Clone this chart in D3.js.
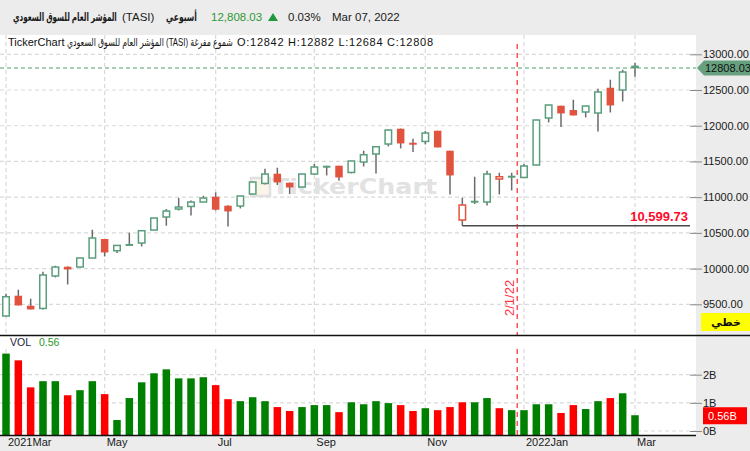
<!DOCTYPE html>
<html>
<head>
<meta charset="utf-8">
<script src="https://cdn.jsdelivr.net/npm/d3@7"></script>
<style>
body { margin: 0; background: #ececec; }
svg { display: block; font-family: "Liberation Sans", "DejaVu Sans", sans-serif; }
</style>
</head>
<body>
<div id="chart"></div>
<script>
// weekly TASI candles, Mar 2021 - Mar 2022
const open = [9336, 9620, 9480, 9442, 9896, 10026, 10022, 10148, 10414, 10250,
    10345, 10358, 10540, 10722, 10834, 10870, 10932, 11006, 10880, 10876,
    11044, 11192, 11328, 11202, 11142, 11324, 11440, 11440, 11346, 11492,
    11604, 11744, 11958, 11762, 11780, 11930, 11650, 10680, 10950, 10932,
    11254, 11300, 11276, 11450, 12108, 12280, 12220, 12192, 12178, 12532,
    12500, 12842];
const high = [9648, 9704, 9578, 9956, 10040, 10030, 10150, 10544, 10414, 10330,
    10502, 10535, 10712, 10834, 10988, 10954, 11020, 11066, 10885, 11020,
    11215, 11398, 11412, 11205, 11326, 11464, 11440, 11440, 11510, 11650,
    11710, 11945, 11960, 11818, 11926, 11930, 11650, 10992, 11286, 11370,
    11342, 11342, 11464, 12085, 12292, 12280, 12364, 12280, 12518, 12644,
    12784, 12882];
const low = [9330, 9484, 9428, 9428, 9876, 9778, 10020, 10148, 10170, 10218,
    10325, 10310, 10535, 10600, 10814, 10744, 10932, 10814, 10590, 10842,
    11040, 11178, 11170, 11044, 11140, 11314, 11304, 11230, 11332, 11430,
    11332, 11710, 11682, 11632, 11738, 11696, 11038, 10599.73, 10904, 10884,
    11038, 11094, 11276, 11445, 12046, 11982, 12144, 12116, 11920, 12186,
    12340, 12684];
const close = [9606, 9484, 9428, 9910, 10022, 9988, 10148, 10428, 10226, 10324,
    10330, 10530, 10708, 10806, 10862, 10932, 10988, 10824, 10800, 11016,
    11212, 11324, 11206, 11136, 11324, 11422, 11428, 11276, 11506, 11594,
    11706, 11940, 11752, 11738, 11898, 11696, 11304, 10890, 10926, 11324,
    11286, 11290, 11436, 12080, 12290, 12172, 12144, 12276, 12472, 12284,
    12752, 12808];
// volume in billions
const volume = [2.75, 2.51, 1.55, 1.77, 1.77, 1.27, 1.45, 1.77, 1.31, 0.39,
    1.17, 1.73, 2.05, 2.19, 1.87, 1.87, 1.91, 1.63, 1.13, 1.06,
    1.20, 1.06, 0.85, 0.71, 0.85, 0.92, 0.92, 0.67, 1.02, 0.95,
    1.06, 0.99, 0.92, 0.71, 0.81, 0.74, 0.85, 1.02, 1.02, 1.17,
    0.81, 0.74, 0.74, 0.95, 0.95, 0.64, 0.92, 0.78, 1.06, 1.17,
    1.34, 0.56];

const priceTicks = [9500, 10000, 10500, 11000, 11500, 12000, 12500, 13000];
const volTicks = [0, 1, 2];
const monthTicks = [0, 8, 17, 25, 34, 42, 51];
const monthLabels = ["2021Mar", "May", "Jul", "Sep", "Nov", "2022Jan", "Mar"];

const lastPrice = 12808.03;
const lowPrice = 10599.73;
const lowIndex = 37;
const markerIndex = 41.45;
const markerLabel = "2/1/22";

const GREEN = "#5a9e7b", RED = "#e2533f";

// squeeze a text horizontally so it fits in w pixels
function fitText(sel, x, y, w) {
    const len = sel.node().getComputedTextLength();
    const k = Math.min(1, w / len);
    sel.attr("transform", "translate(" + x + "," + y + ") scale(" + k + ",1)");
}

class CandleChart {
    constructor(opts) {
        this.element = opts.element;
        // one record per week, colour from change vs previous close
        this.bars = open.map((o, i) => {
            const prev = i ? close[i - 1] : o;
            return { i: i, o: o, h: high[i], l: low[i], c: close[i], v: volume[i],
                     rising: close[i] >= prev, hollow: close[i] > o };
        });
        this.draw();
    }

    draw() {
        this.width = 750;
        this.height = 451;
        this.right = 696;
        const svg = this.element.append("svg")
            .attr("width", this.width)
            .attr("height", this.height);
        this.svg = svg;

        svg.append("rect").attr("width", this.width).attr("height", this.height).attr("fill", "#ececec");
        svg.append("rect").attr("x", 0).attr("y", 35).attr("width", this.right).attr("height", 400).attr("fill", "#fff");

        this.x = d3.scaleLinear().domain([0, 51]).range([6, 635]);
        this.y = d3.scaleLinear().domain([9500, 13000]).range([304.3, 54.3]);
        this.yv = d3.scaleLinear().domain([0, 2]).range([431, 374.7]);

        this.addGrid();
        this.addWatermark();
        this.addMarker();
        this.addCandles();
        this.addVolume();
        this.addAxes();
        this.addLabels();
        this.addHeader();
    }

    addGrid() {
        const g = this.svg.append("g")
            .attr("stroke", "#d9d9d9").attr("stroke-width", 1.2).attr("stroke-dasharray", "4,3");
        g.selectAll(".hp").data(priceTicks).enter().append("line")
            .attr("x1", 0).attr("x2", this.right)
            .attr("y1", d => this.y(d)).attr("y2", d => this.y(d));
        g.selectAll(".hv").data(volTicks).enter().append("line")
            .attr("x1", 0).attr("x2", this.right)
            .attr("y1", d => this.yv(d)).attr("y2", d => this.yv(d));
        g.selectAll(".vp").data(monthTicks).enter().append("line")
            .attr("x1", d => this.x(d)).attr("x2", d => this.x(d))
            .attr("y1", 35).attr("y2", 335);
        g.selectAll(".vv").data(monthTicks).enter().append("line")
            .attr("x1", d => this.x(d)).attr("x2", d => this.x(d))
            .attr("y1", 349).attr("y2", 435);
    }

    addWatermark() {
        const g = this.svg.append("g");
        g.append("rect").attr("x", 251).attr("y", 178).attr("width", 19).attr("height", 18)
            .attr("fill", "#fbf4e8").attr("stroke", "#e0e0e0").attr("stroke-width", 2.5);
        g.append("text").attr("x", 272).attr("y", 194)
            .attr("font-family", "'DejaVu Sans', sans-serif")
            .attr("font-weight", "bold").attr("font-size", 22)
            .attr("textLength", 165).attr("lengthAdjust", "spacingAndGlyphs")
            .attr("fill", "#e2e2e2").text("TickerChart");
    }

    addMarker() {
        const mx = this.x(markerIndex);
        const g = this.svg.append("g").attr("stroke", "#ff2a2a").attr("stroke-width", 1.2)
            .attr("stroke-dasharray", "5,4");
        g.append("line").attr("x1", mx).attr("x2", mx).attr("y1", 44).attr("y2", 335);
        g.append("line").attr("x1", mx).attr("x2", mx).attr("y1", 349).attr("y2", 435);
        this.svg.append("text")
            .attr("transform", "translate(" + (mx - 3) + ",316) rotate(-90)")
            .attr("font-size", 13).attr("fill", "#ff3344").text(markerLabel);
    }

    addCandles() {
        const g = this.svg.append("g");
        const candles = g.selectAll("g").data(this.bars).enter().append("g")
            .attr("transform", d => "translate(" + this.x(d.i) + ",0)");
        candles.append("line")
            .attr("y1", d => this.y(d.h)).attr("y2", d => this.y(d.l))
            .attr("stroke", "#6b6b6b").attr("stroke-width", 1.5);
        candles.append("rect")
            .attr("x", d => d.hollow ? -3.25 : -3.75)
            .attr("width", d => d.hollow ? 6.5 : 7.5)
            .attr("y", d => this.y(Math.max(d.o, d.c)))
            .attr("height", d => Math.max(2, Math.abs(this.y(d.o) - this.y(d.c))))
            .attr("fill", d => d.hollow ? "#fff" : (d.rising ? GREEN : RED))
            .attr("stroke", d => d.hollow ? (d.rising ? GREEN : RED) : "none")
            .attr("stroke-width", 1.5);

        // last price line
        this.svg.append("line")
            .attr("x1", 0).attr("x2", this.right)
            .attr("y1", this.y(lastPrice)).attr("y2", this.y(lastPrice))
            .attr("stroke", "#4f9e72").attr("stroke-width", 1).attr("stroke-dasharray", "4,3");

        // lowest low line
        const ly = this.y(lowPrice);
        this.svg.append("line")
            .attr("x1", this.x(lowIndex)).attr("x2", 690)
            .attr("y1", ly).attr("y2", ly)
            .attr("stroke", "#4a4a4a").attr("stroke-width", 1.5);
        this.svg.append("text")
            .attr("x", 688).attr("y", ly - 4.5)
            .attr("text-anchor", "end").attr("font-weight", "bold").attr("font-size", 13)
            .attr("fill", "#ff0a2a").text(d3.format(",.2f")(lowPrice));
    }

    addVolume() {
        this.svg.append("g").selectAll("rect").data(this.bars).enter().append("rect")
            .attr("x", d => this.x(d.i) - 3.75)
            .attr("width", 7.5)
            .attr("y", d => this.yv(d.v))
            .attr("height", d => 435 - this.yv(d.v))
            .attr("fill", d => d.rising ? "#008000" : "#ff0000");
    }

    addAxes() {
        // panel separators
        this.svg.append("line").attr("x1", 0).attr("x2", this.width).attr("y1", 335.5).attr("y2", 335.5)
            .attr("stroke", "#111").attr("stroke-width", 1.5);
        this.svg.append("line").attr("x1", 0).attr("x2", this.right).attr("y1", 435.5).attr("y2", 435.5)
            .attr("stroke", "#111").attr("stroke-width", 1.5);

        const styleAxis = g => {
            g.select(".domain").remove();
            g.selectAll(".tick line").attr("stroke", "#8a8a8a");
            g.selectAll(".tick text").attr("fill", "#1a1a1a").attr("font-size", 11)
                .attr("font-family", "'Liberation Sans', sans-serif");
        };
        this.svg.append("g").attr("transform", "translate(690,0)")
            .call(d3.axisRight(this.y).tickValues(priceTicks).tickFormat(d3.format(".2f"))
                .tickSize(12).tickPadding(1))
            .call(styleAxis);
        this.svg.append("g").attr("transform", "translate(690,0)")
            .call(d3.axisRight(this.yv).tickValues(volTicks).tickFormat(d => d + "B")
                .tickSize(12).tickPadding(1))
            .call(styleAxis);
        const xa = this.svg.append("g").attr("transform", "translate(0,436)")
            .call(d3.axisBottom(this.x).tickValues(monthTicks)
                .tickFormat((d, i) => monthLabels[i]).tickSize(0).tickPadding(0))
            .call(styleAxis);
        xa.selectAll(".tick text").attr("text-anchor", "start").attr("dx", 1.5).attr("dy", 0).attr("y", 10);
    }

    addLabels() {
        // last price tag
        const py = this.y(lastPrice);
        this.svg.append("path")
            .attr("d", "M697," + py + "L704," + (py - 7.5) + "H750V" + (py + 7.5) + "H704Z")
            .attr("fill", "#67a07e");
        this.svg.append("text").attr("x", 705).attr("y", py + 4).attr("font-size", 11)
            .attr("fill", "#111").text(d3.format(".2f")(lastPrice));

        // last volume tag
        const vy = this.yv(volume[volume.length - 1]);
        this.svg.append("rect").attr("x", 703).attr("y", vy - 8).attr("width", 44).attr("height", 17)
            .attr("fill", "#ff0000");
        this.svg.append("text").attr("x", 708).attr("y", vy + 4.5).attr("font-size", 11)
            .attr("fill", "#fff").text(volume[volume.length - 1] + "B");

        // chart type button
        this.svg.append("rect").attr("x", 701).attr("y", 313).attr("width", 49).attr("height", 18)
            .attr("fill", "#ffff00");
        this.svg.append("text").attr("x", 726).attr("y", 326).attr("text-anchor", "middle")
            .attr("font-size", 11).attr("font-weight", "bold").attr("fill", "#111").text("خطي");

        // legends
        this.svg.append("text").attr("x", 8).attr("y", 45.5)
            .attr("font-size", 11).attr("fill", "#111").text("TickerChart");
        const ar = this.svg.append("text")
            .attr("font-size", 11).attr("fill", "#111")
            .text("المؤشر العام للسوق السعودي (TASI) شموع مفرغة");
        fitText(ar, 67, 45.5, 166);
        this.svg.append("text").attr("x", 237).attr("y", 45.5)
            .attr("font-size", 11).attr("fill", "#111")
            .attr("textLength", 196).attr("lengthAdjust", "spacing")
            .text("O:" + open[51] + " H:" + high[51] + " L:" + low[51] + " C:" + close[51]);

        const vl = this.svg.append("text").attr("x", 10).attr("y", 346).attr("font-size", 10.5);
        vl.append("tspan").attr("fill", "#1a1a3a").text("VOL");
        vl.append("tspan").attr("dx", 8).attr("fill", "#2a9a2a").text(volume[volume.length - 1]);
    }

    addHeader() {
        const h = this.svg.append("g").attr("font-size", 11.5).attr("fill", "#1a1a1a");
        const title = h.append("text").attr("font-weight", "bold")
            .text("المؤشر العام للسوق السعودي");
        fitText(title, 13, 21, 104);
        h.append("text").attr("x", 122).attr("y", 21).text("(TASI)");
        const period = h.append("text").attr("font-weight", "bold").text("أسبوعي");
        fitText(period, 166, 21, 31);
        h.append("text").attr("x", 211).attr("y", 21).attr("fill", "#2e9a35")
            .text(d3.format(",.2f")(lastPrice));
        h.append("path").attr("d", "M268,21L273,13L278,21Z").attr("fill", "#1e9a3c");
        h.append("text").attr("x", 288).attr("y", 21).text("0.03%");
        h.append("text").attr("x", 332).attr("y", 21).text("Mar 07, 2022");
    }
}

const chart = new CandleChart({ element: d3.select("#chart") });
</script>
</body>
</html>
